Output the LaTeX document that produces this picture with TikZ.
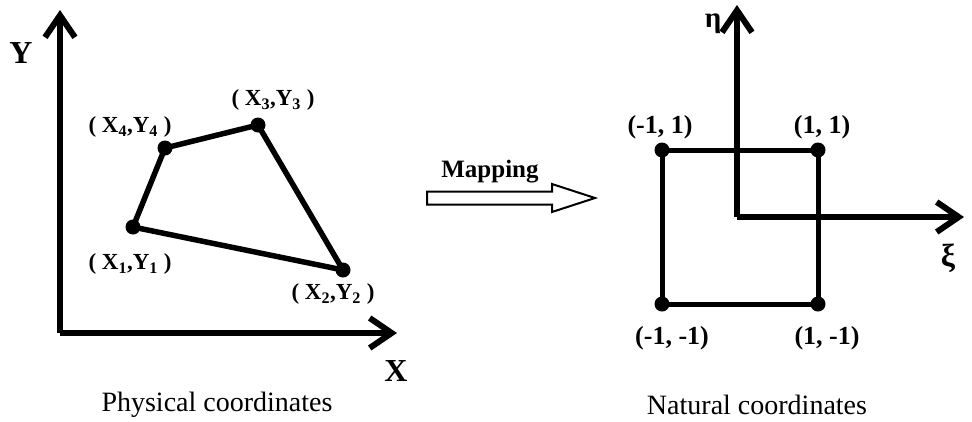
\documentclass[tikz,border=0pt]{standalone}
\usepackage{fontspec}
\setmainfont{Liberation Serif}
\usetikzlibrary{arrows.meta,positioning}

\tikzset{
  axis/.style={line width=6pt,-{Straight Barb[length=22pt,width=30pt,line width=6pt]}},
  edge/.style={line width=5.5pt,line join=round},
  vert/.style={circle,fill=black,inner sep=0pt,minimum size=15pt},
  lab/.style={font=\fontsize{23}{25}\selectfont\bfseries,inner sep=0pt},
  nlab/.style={font=\fontsize{26}{28}\selectfont\bfseries,inner sep=0pt},
  axlab/.style={font=\fontsize{32}{34}\selectfont\bfseries,inner sep=0pt},
  caption/.style={font=\fontsize{28}{30}\selectfont,inner sep=0pt}
}

\begin{document}
\begin{tikzpicture}[x=1pt,y=-1pt]
\useasboundingbox (0,0) rectangle (972,421);
% physical element
\coordinate (o) at (60,333);
\draw[axis] (o) -- (60,10) coordinate (ytip);
\draw[axis] (o) -- (397,333) coordinate (xtip);
\node[axlab] (ylab) at (21,53) {Y};
\node[axlab] (xlab) at (396,371) {X};
\node[vert] (p1) at (133,227) {};
\node[vert] (p2) at (343,270) {};
\node[vert] (p3) at (258,125) {};
\node[vert] (p4) at (165,148) {};
\draw[edge] (p1.center) -- (p2.center) -- (p3.center) -- (p4.center) -- cycle;
\node[lab] (l1) at (130,264) {( X\textsubscript{1},Y\textsubscript{1} )};
\node[lab] (l2) at (333,294) {( X\textsubscript{2},Y\textsubscript{2} )};
\node[lab] (l3) at (273,100) {( X\textsubscript{3},Y\textsubscript{3} )};
\node[lab] (l4) at (130,127) {( X\textsubscript{4},Y\textsubscript{4} )};
\node[caption] (phys) at (217,405) {Physical coordinates};
% mapping arrow
\draw[line width=2pt,line join=miter] (427,191.5) -- (552,191.5) -- (552,184) -- (595,198)
  -- (552,212) -- (552,204.5) -- (427,204.5) -- cycle;
\node[font=\fontsize{25}{27}\selectfont\bfseries,inner sep=0pt] (map) at (490,172) {Mapping};
% natural element
\coordinate (n) at (737,217);
\node[vert] (q1) at (662,304) {};
\node[vert] (q2) at (818,304) {};
\node[vert] (q3) at (818,150) {};
\node[vert] (q4) at (662,150) {};
\draw[edge,line width=5pt] (q1.center) -- (q2.center) -- (q3.center) -- (q4.center) -- cycle;
\draw[axis] (n) -- (737,5) coordinate (etatip);
\draw[axis] (n) -- (964,217) coordinate (xitip);
\node[axlab,font=\fontsize{29}{31}\selectfont\bfseries] (eta) at (713,24) {η};
\node[axlab] (xi) at (948,258) {ξ};
\node[nlab] (m1) at (672,338) {(-1, -1)};
\node[nlab] (m2) at (827,338) {(1, -1)};
\node[nlab] (m3) at (822,127) {(1, 1)};
\node[nlab] (m4) at (660,127) {(-1, 1)};
\node[caption] (nat) at (757,405) {Natural coordinates};
\end{tikzpicture}
\end{document}
